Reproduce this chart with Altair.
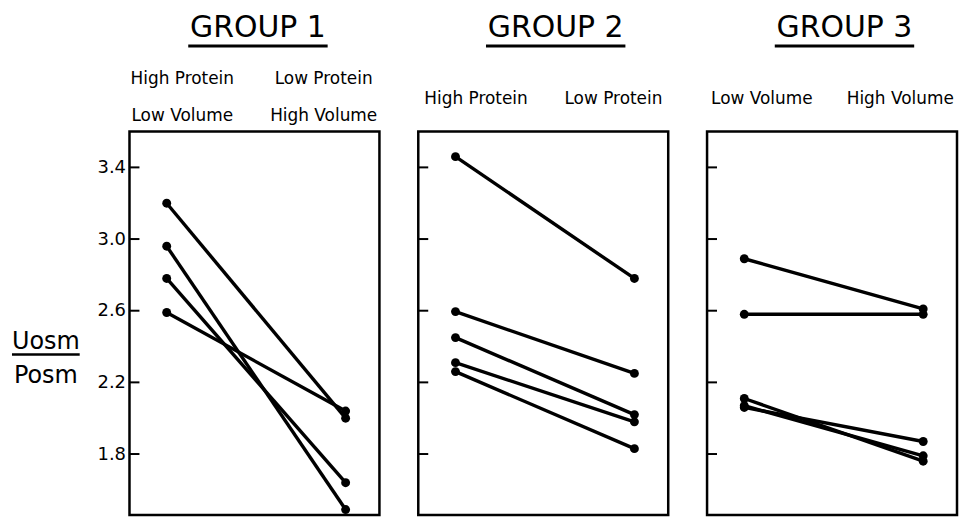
import altair as alt
import pandas as pd

# ---- data ----
group_titles = ["GROUP 1", "GROUP 2", "GROUP 3"]
label_line1 = [["High Protein", "Low Protein"], ["High Protein", "Low Protein"], ["Low Volume", "High Volume"]]
label_line2 = [["Low Volume", "High Volume"], None, None]

g1_before = [3.20, 2.96, 2.78, 2.59]
g1_after = [2.00, 1.49, 1.64, 2.04]
g2_before = [3.46, 2.595, 2.45, 2.31, 2.26]
g2_after = [2.78, 2.25, 2.02, 1.98, 1.83]
g3_before = [2.89, 2.58, 2.11, 2.07, 2.06]
g3_after = [2.61, 2.58, 1.76, 1.79, 1.87]

y_ticks = [1.8, 2.2, 2.6, 3.0, 3.4]
y_label_top = "Uosm"
y_label_bottom = "Posm"

groups = [(g1_before, g1_after), (g2_before, g2_after), (g3_before, g3_after)]

FONT = "DejaVu Sans"
W = 251
H = 385
Y_DOMAIN = [1.46, 3.6]
X_DOMAIN = [-0.208, 1.189]
title_centers = [129, 138, 138]
title_half = [70, 70, 70]
sub_x = [[53, 195], [58, 196], [55, 194]]


def panel(i):
    before, after = groups[i]
    rows = []
    for s, (b, a) in enumerate(zip(before, after)):
        rows.append({"subject": s, "cond": 0, "value": b})
        rows.append({"subject": s, "cond": 1, "value": a})
    df = pd.DataFrame(rows)
    xenc = alt.X("cond:Q", scale=alt.Scale(domain=X_DOMAIN), axis=None)
    if i == 0:
        yaxis = alt.Axis(values=y_ticks, format=".1f", title=None, domain=False,
                         ticks=False, tickSize=0, labelPadding=4, grid=False,
                         labelFont=FONT, labelFontSize=18, labelColor="black")
    else:
        yaxis = None
    yscale = alt.Scale(domain=Y_DOMAIN, nice=False, zero=False)
    base = alt.Chart(df)
    lines = base.mark_line(color="black", strokeWidth=3.4).encode(
        x=xenc, y=alt.Y("value:Q", scale=yscale, axis=yaxis, title=None),
        detail="subject:N")
    pts = base.mark_circle(color="black", size=80, opacity=1).encode(
        x=xenc, y=alt.Y("value:Q", scale=yscale, axis=yaxis, title=None))
    tick_rules = alt.Chart(pd.DataFrame({"tick": y_ticks})).mark_rule(
        color="black", strokeWidth=2).encode(
        y=alt.Y("tick:Q", scale=yscale, axis=yaxis, title=None),
        x=alt.value(0), x2=alt.value(10))
    c = title_centers[i]
    title = alt.Chart(pd.DataFrame({"t": [group_titles[i]]})).mark_text(
        font=FONT, fontSize=30, color="black", align="center", baseline="alphabetic").encode(
        text="t:N", x=alt.value(c), y=alt.value(-95))
    uline = alt.Chart(pd.DataFrame({"t": [group_titles[i]]})).mark_rule(
        color="black", strokeWidth=3).encode(
        x=alt.value(c - title_half[i]), x2=alt.value(c + title_half[i]), y=alt.value(-86))
    layers = [lines, pts, tick_rules, title, uline]
    if label_line2[i] is None:
        ys = [-28]
        lab_lines = [label_line1[i]]
    else:
        ys = [-48, -11]
        lab_lines = [label_line1[i], label_line2[i]]
    for yy, pair in zip(ys, lab_lines):
        for xx, txt in zip(sub_x[i], pair):
            layers.append(alt.Chart(pd.DataFrame({"t": [txt]})).mark_text(
                font=FONT, fontSize=17, color="black", align="center",
                baseline="alphabetic").encode(text="t:N", x=alt.value(xx), y=alt.value(yy)))
    if i == 0:
        layers.append(alt.Chart(pd.DataFrame({"t": [y_label_top]})).mark_text(
            font=FONT, fontSize=24, color="black", align="center", baseline="alphabetic").encode(
            text="t:N", x=alt.value(-84), y=alt.value(218)))
        layers.append(alt.Chart(pd.DataFrame({"t": [y_label_bottom]})).mark_text(
            font=FONT, fontSize=24, color="black", align="center", baseline="alphabetic").encode(
            text="t:N", x=alt.value(-84), y=alt.value(253)))
        layers.append(alt.Chart(pd.DataFrame({"t": [y_label_top]})).mark_rule(
            color="black", strokeWidth=2.5).encode(
            x=alt.value(-118), x2=alt.value(-50), y=alt.value(224)))
    return alt.layer(*layers).properties(width=W, height=H)


chart = alt.hconcat(panel(0), panel(1), panel(2), spacing=34).properties(
    padding={"left": 1, "top": 2, "right": 0, "bottom": 0}
).configure(background="white").configure_view(stroke="black", strokeWidth=2.5)

chart.save("out.html", embed_options={"renderer": "svg", "actions": False})
